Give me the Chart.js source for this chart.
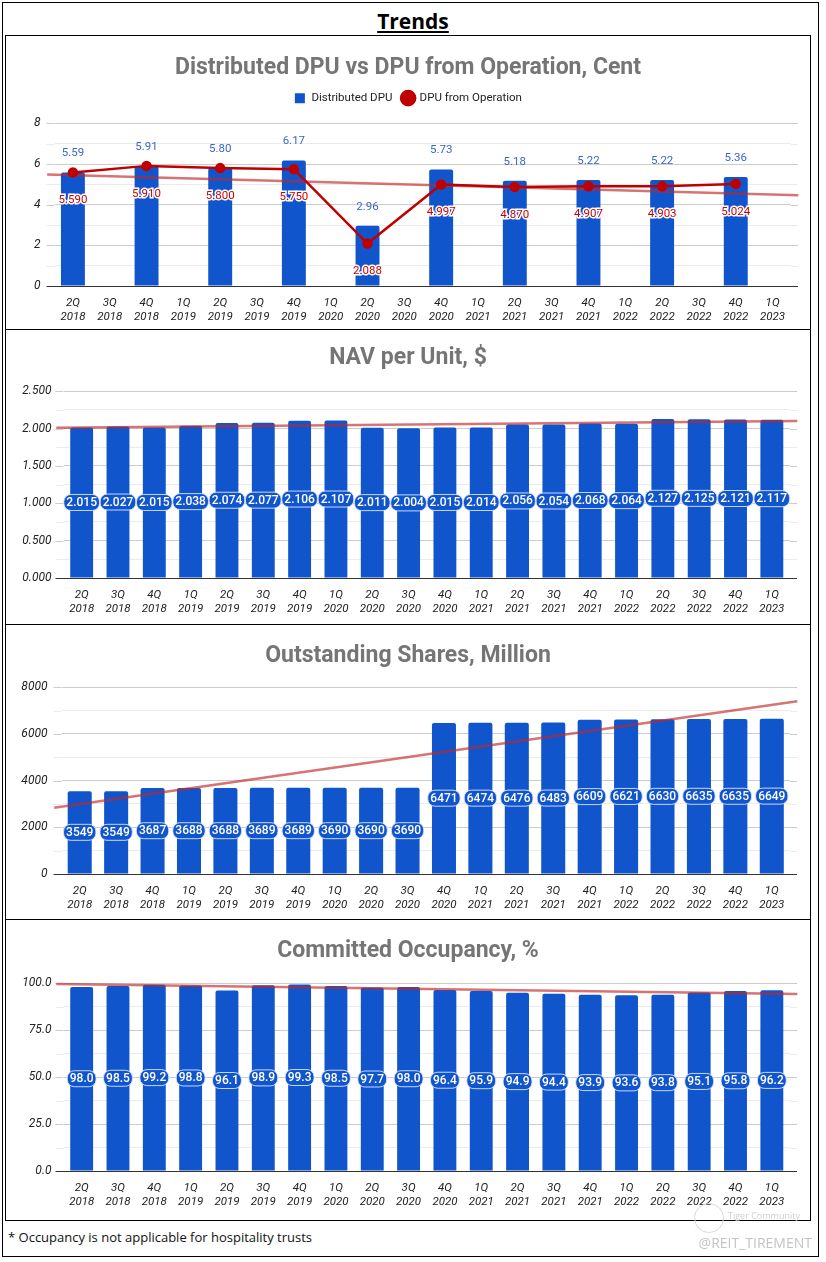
<!DOCTYPE html>
<html lang="en">

<head>
  <meta charset="UTF-8">
  <title>Trends</title>
  <script src="https://cdn.jsdelivr.net/npm/chart.js"></script>
  <style>
    body { margin: 0; background: #fff; font-family: Roboto, sans-serif; }
    #page { position: relative; width: 826px; height: 1262px; }
    .outer { position: absolute; left: 2px; top: 2px; width: 817px; height: 1255px; border: 1px solid #000; box-sizing: border-box; }
    .heading { position: absolute; left: 0; width: 826px; top: 7px; text-align: center; font-family: 'Liberation Sans Narrow', 'Open Sans', sans-serif; font-weight: bold; font-size: 21px; text-decoration: underline; color: #000; }
    .panel { position: absolute; left: 5px; width: 806px; border: 1.5px solid #000; box-sizing: border-box; }
    .panel div { position: absolute; left: 0; top: 0; right: 0; bottom: 0; }
    .note { position: absolute; left: 8px; top: 1228px; font-family: 'Open Sans', sans-serif; font-size: 13px; color: #111; }
    .mark { position: absolute; right: 14px; top: 1233px; font-family: 'Open Sans', sans-serif; font-size: 14px; color: #c4c4c4; }
    .tiger { position: absolute; left: 694px; top: 1203px; width: 28px; height: 28px; border: 1px solid #d8d8d8; border-radius: 50%; }
    .tiger-text { position: absolute; left: 728px; top: 1209px; font-family: 'Open Sans', sans-serif; font-size: 9px; color: #d0d0d0; }
  </style>
</head>

<body>
  <div id="page">
    <div class="outer"></div>
    <div class="heading">Trends</div>
    <div class="panel" style="top:35px;height:295px"><div><canvas id="dpuChart"></canvas></div></div>
    <div class="panel" style="top:329px;height:296px"><div><canvas id="navChart"></canvas></div></div>
    <div class="panel" style="top:624px;height:296px"><div><canvas id="sharesChart"></canvas></div></div>
    <div class="panel" style="top:919px;height:302px"><div><canvas id="occChart"></canvas></div></div>
    <div class="note">* Occupancy is not applicable for hospitality trusts</div>
    <div class="tiger"></div>
    <div class="tiger-text">Tiger Community</div>
    <div class="mark">@REIT_TIREMENT</div>
  </div>

  <script>
    var quarters = [
      ['2Q', '2018'], ['3Q', '2018'], ['4Q', '2018'], ['1Q', '2019'], ['2Q', '2019'],
      ['3Q', '2019'], ['4Q', '2019'], ['1Q', '2020'], ['2Q', '2020'], ['3Q', '2020'],
      ['4Q', '2020'], ['1Q', '2021'], ['2Q', '2021'], ['3Q', '2021'], ['4Q', '2021'],
      ['1Q', '2022'], ['2Q', '2022'], ['3Q', '2022'], ['4Q', '2022'], ['1Q', '2023']
    ];

    var distributedDpu = [5.59, null, 5.91, null, 5.80, null, 6.17, null, 2.96, null,
      5.73, null, 5.18, null, 5.22, null, 5.22, null, 5.36, null];
    var dpuFromOperation = [5.590, null, 5.910, null, 5.800, null, 5.750, null, 2.088, null,
      4.997, null, 4.870, null, 4.907, null, 4.903, null, 5.024, null];
    var navPerUnit = [2.015, 2.027, 2.015, 2.038, 2.074, 2.077, 2.106, 2.107, 2.011, 2.004,
      2.015, 2.014, 2.056, 2.054, 2.068, 2.064, 2.127, 2.125, 2.121, 2.117];
    var outstandingShares = [3549, 3549, 3687, 3688, 3688, 3689, 3689, 3690, 3690, 3690,
      6471, 6474, 6476, 6483, 6609, 6621, 6630, 6635, 6635, 6649];
    var committedOccupancy = [98.0, 98.5, 99.2, 98.8, 96.1, 98.9, 99.3, 98.5, 97.7, 98.0,
      96.4, 95.9, 94.9, 94.4, 93.9, 93.6, 93.8, 95.1, 95.8, 96.2];

    // trend lines at both ends (x in category index units)
    var trendX = [-0.7, 19.7];
    var dpuTrend = [5.49, 4.46];
    var navTrend = [2.012, 2.101];
    var sharesTrend = [2840, 7400];
    var occupancyTrend = [99.6, 94.3];

    var BLUE = '#1155cc';
    var RED = '#c00000';
    var TREND = 'rgba(192, 40, 40, 0.65)';

    Chart.defaults.font.family = 'Roboto, sans-serif';
    Chart.defaults.animation = false;

    // draws the value labels
    var valueLabels = {
      id: 'valueLabels',
      afterDatasetsDraw: function (chart, args, opts) {
        var ctx = chart.ctx;
        (opts.items || []).forEach(function (item) {
          var meta = chart.getDatasetMeta(item.dataset);
          var values = chart.data.datasets[item.dataset].data;
          meta.data.forEach(function (el, i) {
            var v = values[i];
            if (v === null || v === undefined) return;
            var text = v.toFixed(item.decimals);
            var x = el.x, y;
            ctx.save();
            ctx.textAlign = 'center';
            ctx.textBaseline = 'middle';
            if (item.pos === 'above') {
              y = el.y - 19;
              ctx.font = '11.5px Roboto';
              ctx.fillStyle = '#3a66c8';
              ctx.fillText(text, x, y);
            } else if (item.pos === 'below') {
              y = el.y + 28;
              ctx.font = '11.5px Roboto';
              ctx.lineWidth = 3;
              ctx.strokeStyle = '#fff';
              ctx.strokeText(text, x, y);
              ctx.fillStyle = '#cc0000';
              ctx.fillText(text, x, y);
            } else {
              y = (el.y + el.base) / 2;
              ctx.font = '500 12px Roboto';
              var w = ctx.measureText(text).width + 5;
              ctx.beginPath();
              ctx.roundRect(x - w / 2, y - 8, w, 16, 7);
              ctx.fillStyle = BLUE;
              ctx.fill();
              ctx.lineWidth = 1;
              ctx.strokeStyle = 'rgba(220,230,255,0.9)';
              ctx.stroke();
              ctx.fillStyle = '#fff';
              ctx.fillText(text, x, y + 0.5);
            }
            ctx.restore();
          });
        });
      }
    };

    // gridlines reach a little past the bars on both sides
    var gridExtend = {
      id: 'gridExtend',
      beforeDatasetsDraw: function (chart) {
        var ctx = chart.ctx, a = chart.chartArea, ys = chart.scales.y;
        ys.ticks.forEach(function (t, i) {
          var py = Math.round(ys.getPixelForValue(t.value)) + 0.5;
          ctx.save();
          ctx.strokeStyle = t.value === 0 ? '#333' : (i % 2 === 0 ? '#cccccc' : '#ebebeb');
          ctx.lineWidth = 1;
          ctx.beginPath();
          ctx.moveTo(a.left - 8, py); ctx.lineTo(a.left, py);
          ctx.moveTo(a.right, py); ctx.lineTo(a.right + 7, py);
          ctx.stroke();
          ctx.restore();
        });
      }
    };

    var legendGap = {
      id: 'legendGap',
      beforeInit: function (chart) {
        if (!chart.legend) return;
        var fit = chart.legend.fit;
        chart.legend.fit = function () {
          fit.call(this);
          this.height += 9.5;
        };
      }
    };

    function trendData(vals) {
      return trendX.map(function (x, i) { return { x: x, y: vals[i] }; });
    }

    function trendSet(vals) {
      return {
        type: 'line',
        data: trendData(vals),
        xAxisID: 'xt',
        borderColor: TREND,
        borderWidth: 2.5,
        pointRadius: 0,
        clip: false,
        order: 2
      };
    }

    function barSet(label, vals, pct) {
      return {
        label: label,
        data: vals,
        backgroundColor: BLUE,
        borderRadius: { topLeft: 2, topRight: 2 },
        borderSkipped: 'bottom',
        grouped: false,
        barPercentage: pct,
        categoryPercentage: 1,
        pointStyle: 'rect',
        order: 3
      };
    }

    function makeOptions(o) {
      return {
        responsive: true,
        maintainAspectRatio: false,
        layout: { padding: 0 },
        plugins: {
          title: {
            display: true,
            text: o.title,
            color: '#757575',
            font: { size: 23, weight: 'bold' },
            padding: o.titlePad
          },
          legend: o.legend || { display: false },
          tooltip: { enabled: false },
          valueLabels: { items: o.labels }
        },
        scales: {
          x: {
            grid: { display: false },
            border: { color: '#333' },
            ticks: {
              autoSkip: false, maxRotation: 0, padding: 2,
              color: '#222', font: { size: 11.5, style: 'italic', lineHeight: 1.2 }
            },
            afterFit: function (s) { s.height = o.xHeight; }
          },
          xt: { type: 'linear', display: false, offset: false, grid: { offset: false }, min: -0.5, max: 19.5 },
          y: {
            min: 0,
            max: o.max,
            border: { display: false },
            grid: {
              drawTicks: false,
              color: function (c) {
                if (c.tick.value === 0) return '#333';
                return c.index % 2 === 0 ? '#cccccc' : '#ebebeb';
              }
            },
            ticks: {
              stepSize: o.step,
              padding: o.tickPad,
              color: '#222',
              font: { size: 12, style: 'italic' },
              callback: function (v, i) { return i % 2 === 0 ? v.toFixed(o.decimals) : ''; }
            },
            afterFit: function (s) { s.width = o.yWidth; }
          },
          // empty right-hand axis, only holds the right margin so the title stays centred
          yr: {
            type: 'linear',
            position: 'right',
            grid: { display: false },
            border: { display: false },
            ticks: { display: false },
            afterFit: function (s) { s.width = o.right; }
          }
        }
      };
    }

    new Chart(document.getElementById('dpuChart'), {
      type: 'bar',
      data: {
        labels: quarters,
        datasets: [
          barSet('Distributed DPU', distributedDpu, 0.65),
          {
            type: 'line',
            label: 'DPU from Operation',
            data: dpuFromOperation,
            spanGaps: true,
            borderColor: RED,
            backgroundColor: RED,
            borderWidth: 2.5,
            pointRadius: 4,
            pointStyle: 'circle',
            order: 1
          },
          trendSet(dpuTrend)
        ]
      },
      options: makeOptions({
        title: 'Distributed DPU vs DPU from Operation, Cent',
        titlePad: { top: 18.8, bottom: 0 },
        legend: {
          display: true,
          labels: {
            usePointStyle: true, boxHeight: 10, padding: 10, color: '#222',
            font: { size: 11.5 },
            filter: function (item) { return item.text !== undefined; },
            sort: function (a, b) { return a.datasetIndex - b.datasetIndex; }
          }
        },
        labels: [
          { dataset: 0, pos: 'above', decimals: 2 },
          { dataset: 1, pos: 'below', decimals: 3 }
        ],
        max: 8, step: 1, decimals: 0, tickPad: 14,
        yWidth: 48.5, right: 19, xHeight: 43
      }),
      plugins: [legendGap, gridExtend, valueLabels]
    });

    new Chart(document.getElementById('navChart'), {
      type: 'bar',
      data: { labels: quarters, datasets: [barSet('NAV per Unit', navPerUnit, 0.63), trendSet(navTrend)] },
      options: makeOptions({
        title: 'NAV per Unit, $',
        titlePad: { top: 14.8, bottom: 18.8 },
        labels: [{ dataset: 0, pos: 'center', decimals: 3 }],
        max: 2.5, step: 0.25, decimals: 3, tickPad: 12,
        yWidth: 57.5, right: 20, xHeight: 46
      }),
      plugins: [gridExtend, valueLabels]
    });

    new Chart(document.getElementById('sharesChart'), {
      type: 'bar',
      data: { labels: quarters, datasets: [barSet('Outstanding Shares', outstandingShares, 0.66), trendSet(sharesTrend)] },
      options: makeOptions({
        title: 'Outstanding Shares, Million',
        titlePad: { top: 17.8, bottom: 16.8 },
        labels: [{ dataset: 0, pos: 'center', decimals: 0 }],
        max: 8000, step: 1000, decimals: 0, tickPad: 14,
        yWidth: 55.5, right: 20, xHeight: 45
      }),
      plugins: [gridExtend, valueLabels]
    });

    new Chart(document.getElementById('occChart'), {
      type: 'bar',
      data: { labels: quarters, datasets: [barSet('Committed Occupancy', committedOccupancy, 0.63), trendSet(occupancyTrend)] },
      options: makeOptions({
        title: 'Committed Occupancy, %',
        titlePad: { top: 17.8, bottom: 17.8 },
        labels: [{ dataset: 0, pos: 'center', decimals: 1 }],
        max: 100, step: 12.5, decimals: 1, tickPad: 12,
        yWidth: 57.5, right: 20, xHeight: 49
      }),
      plugins: [gridExtend, valueLabels]
    });
  </script>
</body>

</html>
